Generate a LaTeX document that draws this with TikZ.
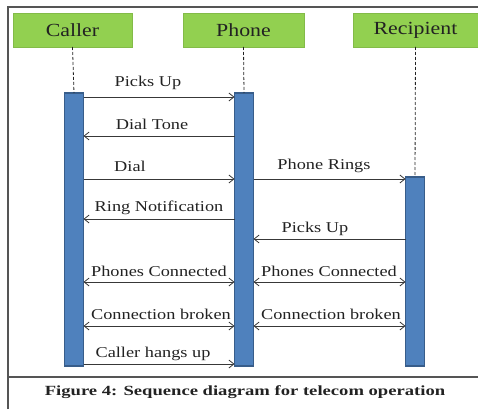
\documentclass[tikz,border=0pt]{standalone}
\usepackage{fontspec}
\setmainfont{Liberation Serif}
\newfontfamily\msgfont[FakeStretch=1.22]{Liberation Serif}
\newfontfamily\hdfont[FakeStretch=1.18]{Liberation Serif}
\newfontfamily\capfont[FakeStretch=1.33]{Liberation Serif}
\usetikzlibrary{arrows.meta}
\definecolor{boxgreen}{HTML}{92D050}
\definecolor{barblue}{HTML}{4F81BD}
\definecolor{barline}{HTML}{385D8A}
\definecolor{ink}{HTML}{222222}
\definecolor{framegray}{HTML}{555555}
\tikzset{
  actor/.style={fill=boxgreen, draw=boxgreen!90!black, line width=0.4pt, inner sep=0pt, outer sep=0pt,
    font=\hdfont\fontsize{18.5}{20}\selectfont, text=ink},
  bar/.style={fill=barblue, draw=barline, line width=1.5pt, minimum width=19pt, inner sep=0pt, outer sep=0pt},
  life/.style={dashed, dash pattern=on 3pt off 2pt, line width=0.8pt, ink},
  msg/.style={ink!90, line width=0.9pt, -{Straight Barb[length=5pt,width=8pt,line width=0.8pt]}},
  bimsg/.style={ink!90, line width=0.9pt, {Straight Barb[length=5pt,width=8pt,line width=0.8pt]}-{Straight Barb[length=5pt,width=8pt,line width=0.8pt]}},
  lbl/.style={font=\msgfont\fontsize{15}{17}\selectfont, text=ink, inner sep=0pt},
  framel/.style={framegray, line width=1.6pt}
}
\begin{document}
\begin{tikzpicture}[x=1pt,y=-1pt]
\useasboundingbox (0,0) rectangle (478,409);
% frame
\draw[framel] (8,409) -- (8,7) -- (478,7);
\draw[framel] (8,377) -- (478,377);
% actors
\node[actor, minimum width=119pt, minimum height=34pt] (caller) at (72.5,30) {Caller};
\node[actor, minimum width=121pt, minimum height=34pt] (phone) at (243.5,30) {Phone};
\node[actor, minimum width=125pt, minimum height=34pt] (recip) at (415.5,30) {Recipient};
% bars
\node[bar, minimum height=273pt] (cbar) at (74,229.5) {};
\node[bar, minimum height=273pt] (pbar) at (244,229.5) {};
\node[bar, minimum height=189pt] (rbar) at (415,271.5) {};
% lifelines
\draw[life] (caller.south) -- (cbar.north);
\draw[life] (phone.south) -- (pbar.north);
\draw[life] (recip.south) -- (rbar.north);
% messages
\draw[msg] (cbar.east |- 0,97) -- (pbar.west |- 0,97);
\node[lbl] (l1) at (148,83) {Picks Up};
\draw[msg] (pbar.west |- 0,136) -- (cbar.east |- 0,136);
\node[lbl] (l2) at (152,124) {Dial Tone};
\draw[msg] (cbar.east |- 0,179) -- (pbar.west |- 0,179);
\node[lbl] (l3) at (130,166) {Dial};
\draw[msg] (pbar.east |- 0,179) -- (rbar.west |- 0,179);
\node[lbl] (l4) at (324,166) {Phone Rings};
\draw[msg] (pbar.west |- 0,219) -- (cbar.east |- 0,219);
\node[lbl] (l5) at (159,208) {Ring Notification};
\draw[msg] (rbar.west |- 0,239) -- (pbar.east |- 0,239);
\node[lbl] (l6) at (315,229) {Picks Up};
\draw[bimsg] (cbar.east |- 0,282) -- (pbar.west |- 0,282);
\node[lbl] (l7) at (159,271) {Phones Connected};
\draw[bimsg] (pbar.east |- 0,282) -- (rbar.west |- 0,282);
\node[lbl] (l8) at (329,271) {Phones Connected};
\draw[bimsg] (cbar.east |- 0,326) -- (pbar.west |- 0,326);
\node[lbl] (l9) at (161,314) {Connection broken};
\draw[bimsg] (pbar.east |- 0,326) -- (rbar.west |- 0,326);
\node[lbl] (l10) at (331,314) {Connection broken};
\draw[msg] (cbar.east |- 0,364) -- (pbar.west |- 0,364);
\node[lbl] (l11) at (153,354) {Caller hangs up};
% caption
\node[font=\capfont\bfseries\fontsize{14}{16}\selectfont, text=ink, inner sep=0pt] (cap) at (245,392) {Figure 4: Sequence diagram for telecom operation};
\end{tikzpicture}
\end{document}
